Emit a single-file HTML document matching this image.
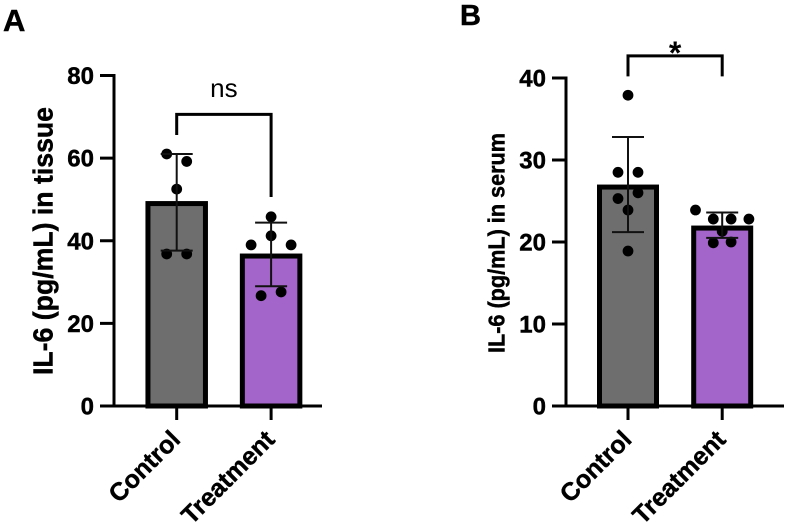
<!DOCTYPE html>
<html lang="en">
<head>
<meta charset="utf-8">
<title>IL-6 in tissue and serum</title>
<style>
html,body{margin:0;padding:0;background:#fff;}
svg{display:block;font-family:"Liberation Sans",Arial,sans-serif;filter:blur(0.35px);}
text{fill:#000;}
.b{font-weight:700;stroke:#000;stroke-width:0.45px;}
</style>
</head>
<body>
<svg id="figure" width="790" height="526" viewBox="0 0 790 526" xmlns="http://www.w3.org/2000/svg">
  <rect x="0" y="0" width="790" height="526" fill="#fff"/>
  <g id="panel-a">
    <text class="b" x="3" y="31" font-size="31">A</text>
    <text class="b" font-size="28" text-anchor="middle" textLength="268" lengthAdjust="spacingAndGlyphs" transform="translate(52.3,241) rotate(-90)">IL-6 (pg/mL) in tissue</text>
  </g>
  <g id="panel-b">
    <text class="b" x="460" y="25" font-size="29">B</text>
    <text class="b" font-size="23" text-anchor="middle" textLength="220" lengthAdjust="spacingAndGlyphs" transform="translate(504.5,243) rotate(-90)">IL-6 (pg/mL) in serum</text>
  </g>
</svg>
<script>
const categories = ['Control', 'Treatment'];

const tissueTicks = [0, 20, 40, 60, 80];
const tissueMeans = [49, 36.3];
const tissueUpper = [61, 44.4];
const tissueLower = [37.6, 29];
const tissueControlPoints = [61, 59.2, 52.5, 36.8, 36.8];
const tissueControlSlots = [-1, 1, 0, -1, 1];
const tissueTreatmentPoints = [45.8, 41.2, 39, 39, 27.6, 26.7];
const tissueTreatmentSlots = [0, 0, -2, 2, 1, -1];
const tissueSignificance = 'ns';

const serumTicks = [0, 10, 20, 30, 40];
const serumMeans = [26.7, 21.7];
const serumUpper = [32.8, 23.6];
const serumLower = [21.2, 20.5];
const serumControlPoints = [37.9, 28.5, 28.5, 25.3, 26, 23.9, 18.9];
const serumControlSlots = [0, -1, 1, -1, 1, 0, 0];
const serumTreatmentPoints = [23.9, 22.8, 22.8, 22.8, 21.3, 19.9, 20];
const serumTreatmentSlots = [-3, -1, 1, 3, 0, -1, 1];
const serumSignificance = '*';

const barColors = ['#6e6e6e', '#a365c9'];
const SVG_NS = 'http://www.w3.org/2000/svg';

function mk(parent, tag, attrs, txt) {
  const n = document.createElementNS(SVG_NS, tag);
  for (const k in attrs) n.setAttribute(k, attrs[k]);
  if (txt !== undefined) n.textContent = txt;
  parent.appendChild(n);
  return n;
}

function drawPanel(root, cfg) {
  const y = v => cfg.y0 - (v / cfg.max) * (cfg.y0 - cfg.yTop);
  const x = i => cfg.x0 + i * cfg.step;

  // bars
  cfg.means.forEach((m, i) => {
    const bar = mk(root, 'rect', {
      x: x(i) - cfg.barW / 2, y: y(m), width: cfg.barW, height: cfg.y0 - y(m),
      fill: barColors[i], stroke: '#000', 'stroke-width': 5
    });
    
    
  });

  // axes
  const yAxis = mk(root, 'line', {x1: cfg.axisX, x2: cfg.axisX, y1: y(cfg.max) - 1.5, y2: cfg.y0, stroke: '#000', 'stroke-width': 3});
  
  
  const xAxis = mk(root, 'line', {x1: cfg.axisX - 14, x2: cfg.axisEnd, y1: cfg.y0, y2: cfg.y0, stroke: '#000', 'stroke-width': 3});
  
  

  cfg.ticks.forEach(t => {
    const tick = mk(root, 'line', {x1: cfg.axisX - 14, x2: cfg.axisX, y1: y(t), y2: y(t), stroke: '#000', 'stroke-width': 3});
    
    
    const lab = mk(root, 'text', {class: 'b', x: cfg.axisX - 20, y: y(t) + 8.6, 'font-size': 24, 'text-anchor': 'end'}, String(t));
    
    
  });

  categories.forEach((c, i) => {
    const tick = mk(root, 'line', {x1: x(i), x2: x(i), y1: cfg.y0, y2: cfg.y0 + 14, stroke: '#000', 'stroke-width': 3});
    
    
    const lab = mk(root, 'text', {
      class: 'b', 'font-size': 25, 'text-anchor': 'end',
      transform: 'translate(' + (x(i) + 5) + ',' + (cfg.y0 + 35) + ') rotate(-45)'
    }, c);
    
    
  });

  // points
  cfg.points.forEach((series, i) => {
    series.forEach((v, j) => {
      const dot = mk(root, 'circle', {cx: x(i) + cfg.slots[i][j] * cfg.slotW[i], cy: y(v), r: 5.4, fill: '#000'});
      
      
    });
  });

  // error bars
  cfg.means.forEach((m, i) => {
    const stem = mk(root, 'line', {x1: x(i), x2: x(i), y1: y(cfg.upper[i]), y2: y(cfg.lower[i]), stroke: '#111', 'stroke-width': 2});
    
    
    const capU = mk(root, 'line', {x1: x(i) - 16, x2: x(i) + 16, y1: y(cfg.upper[i]), y2: y(cfg.upper[i]), stroke: '#111', 'stroke-width': 2});
    
    
    const capL = mk(root, 'line', {x1: x(i) - 16, x2: x(i) + 16, y1: y(cfg.lower[i]), y2: y(cfg.lower[i]), stroke: '#111', 'stroke-width': 2});
    
    
  });

  // significance bracket
  const br = mk(root, 'path', {
    d: 'M' + x(0) + ' ' + y(cfg.bracketLeft) + 'V' + y(cfg.bracketTop) + 'H' + x(1) + 'V' + y(cfg.bracketRight),
    fill: 'none', stroke: '#000', 'stroke-width': 3
  });
  
  
  const sig = mk(root, 'text', {
    x: (x(0) + x(1)) / 2 + cfg.sigDx, y: cfg.sigY, 'font-size': cfg.sigSize,
    'font-weight': cfg.sigWeight, 'text-anchor': 'middle'
  }, cfg.sig);
  
  
}

drawPanel(document.getElementById('panel-a'), {
  y0: 406, yTop: 75.5, max: 80, x0: 176.7, step: 94.4, barW: 57.5,
  axisX: 114, axisEnd: 322,
  ticks: tissueTicks, means: tissueMeans, upper: tissueUpper, lower: tissueLower,
  points: [tissueControlPoints, tissueTreatmentPoints],
  slots: [tissueControlSlots, tissueTreatmentSlots], slotW: [10, 10],
  bracketLeft: 65.6, bracketTop: 70.6, bracketRight: 50.6,
  sig: tissueSignificance, sigDx: 0, sigY: 97, sigSize: 26, sigWeight: 400
});

drawPanel(document.getElementById('panel-b'), {
  y0: 406, yTop: 78, max: 40, x0: 628, step: 94.2, barW: 57,
  axisX: 566, axisEnd: 784,
  ticks: serumTicks, means: serumMeans, upper: serumUpper, lower: serumLower,
  points: [serumControlPoints, serumTreatmentPoints],
  slots: [serumControlSlots, serumTreatmentSlots], slotW: [10, 8.9],
  bracketLeft: 40.2, bracketTop: 42.7, bracketRight: 40.2,
  sig: serumSignificance, sigDx: 0, sigY: 64, sigSize: 32, sigWeight: 700
});
</script>
</body>
</html>
